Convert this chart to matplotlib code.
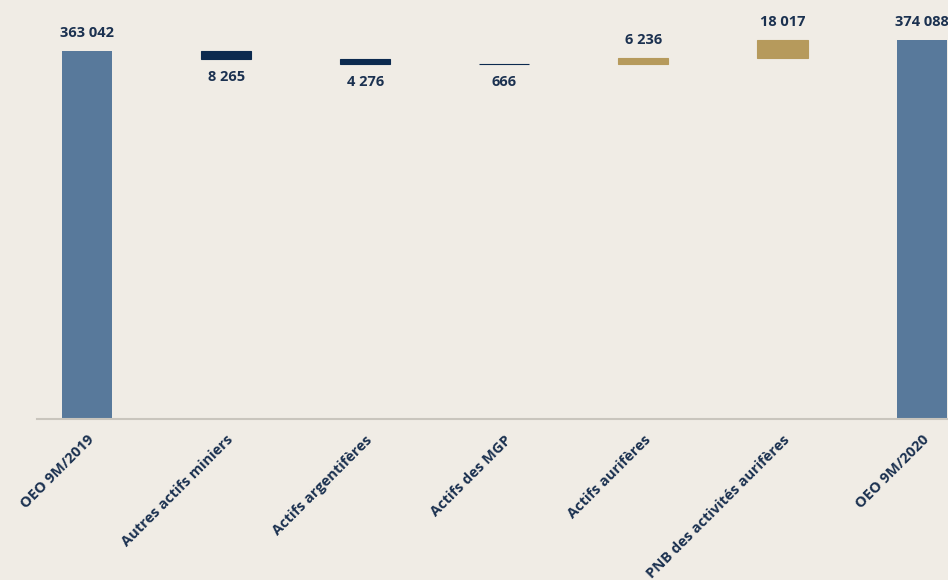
import matplotlib.pyplot as plt

# Waterfall components, in ounces of equivalent
categories = ["OEO 9M/2019", "Autres actifs miniers", "Actifs argentifères",
              "Actifs des MGP", "Actifs aurifères", "PNB des activités aurifères",
              "OEO 9M/2020"]
start_total = 363042
changes = [-8265, -4276, -666, 6236, 18017]
end_total = 374088

BG = "#f0ece5"
TOTAL_COLOR = "#58799b"
DOWN_COLOR = "#0c2a4f"
UP_COLOR = "#b69a5c"
TEXT_COLOR = "#1b3150"


def fmt(v):
    return f"{abs(v):,}".replace(",", " ")


def label(ax, x, y, text, above=True):
    ax.annotate(text, (x, y), xytext=(0, 8 if above else -8),
                textcoords='offset points', ha='center',
                va='bottom' if above else 'top',
                fontsize=10.5, fontweight='bold', color=TEXT_COLOR)


def main():
    plt.rcParams['font.family'] = ['Open Sans', 'DejaVu Sans']

    fig = plt.figure(figsize=(9.48, 5.8), dpi=100, facecolor=BG)
    ax = fig.add_axes([0.039, 0.2776, 0.961, 0.7224])
    ax.set_facecolor(BG)

    width = 0.36
    # opening total
    ax.bar(0, start_total, width=width, color=TOTAL_COLOR)
    label(ax, 0, start_total, fmt(start_total))

    running = start_total
    for i, ch in enumerate(changes, start=1):
        color = DOWN_COLOR if ch < 0 else UP_COLOR
        bottom = min(running, running + ch)
        # thin edge keeps the very small steps visible
        ax.bar(i, abs(ch), bottom=bottom, width=width, color=color,
               edgecolor=color, linewidth=0.8)
        if ch < 0:
            label(ax, i, bottom, fmt(ch), above=False)
        else:
            label(ax, i, bottom + ch, fmt(ch))
        running += ch

    # closing total
    n = len(categories) - 1
    ax.bar(n, end_total, width=width, color=TOTAL_COLOR)
    label(ax, n, end_total, fmt(end_total))

    ax.set_xlim(-0.36, n + 0.19)
    ax.set_ylim(0, 413300)
    ax.set_yticks([])
    ax.set_xticks(range(len(categories)))
    ax.set_xticklabels(categories, rotation=45, ha='right', va='top',
                       rotation_mode='anchor', fontsize=10.5, fontweight='bold',
                       color=TEXT_COLOR)
    ax.tick_params(axis='x', length=0, pad=10)
    for side in ['top', 'left', 'right']:
        ax.spines[side].set_visible(False)
    ax.spines['bottom'].set_color("#c9c5bd")
    ax.spines['bottom'].set_linewidth(1.5)

    fig.savefig("out.png", dpi=100, facecolor=BG)
    plt.close(fig)


if __name__ == "__main__":
    main()
